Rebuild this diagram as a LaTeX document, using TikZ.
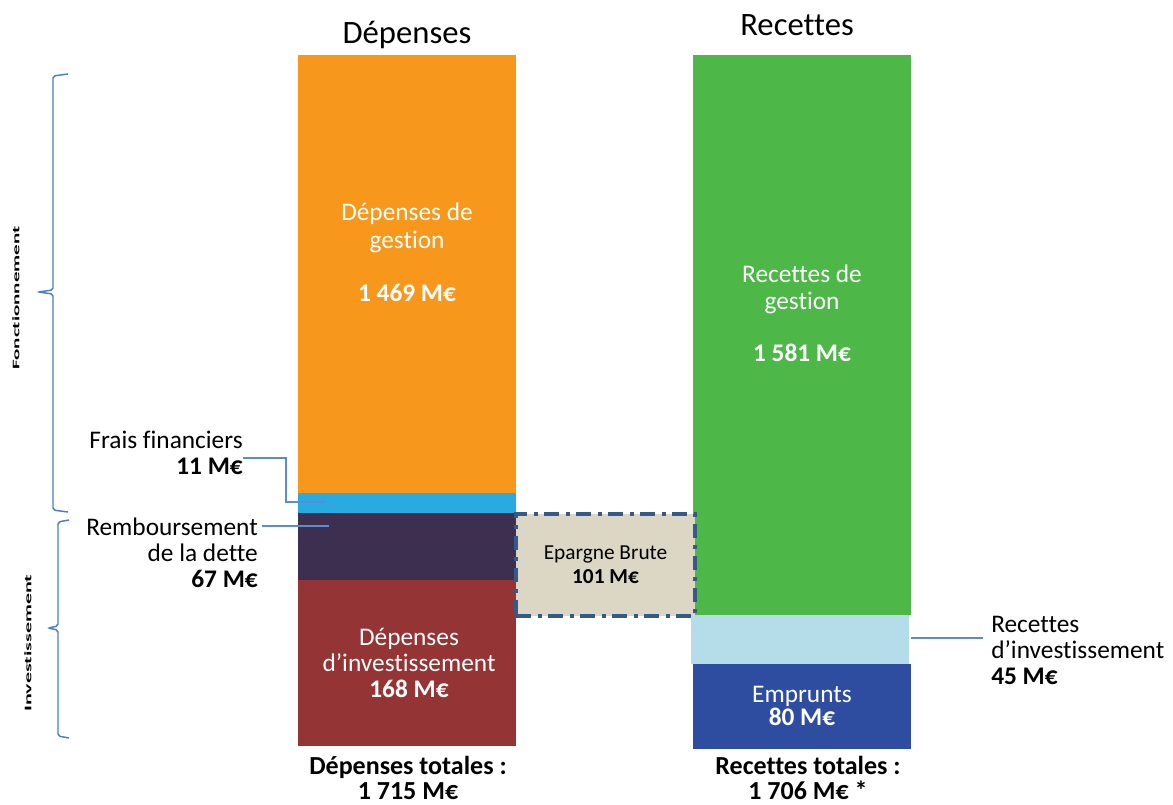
\documentclass[tikz,border=0pt]{standalone}
\usepackage{fontspec}
\setmainfont{Carlito}[Ligatures=NoCommon]
\usetikzlibrary{positioning, calc}
\definecolor{gestionorange}{HTML}{F7981D}
\definecolor{fraisblue}{HTML}{29ABE2}
\definecolor{dettepurple}{HTML}{3D2F4F}
\definecolor{investred}{HTML}{953434}
\definecolor{gestiongreen}{HTML}{4DB848}
\definecolor{investcyan}{HTML}{B4DCE9}
\definecolor{empruntblue}{HTML}{2E4DA0}
\definecolor{epargnefill}{HTML}{DBD7C4}
\definecolor{epargneline}{HTML}{345A8A}
\definecolor{leaderblue}{HTML}{5B8BD0}
\definecolor{braceblue}{HTML}{4A7EC7}

\begin{document}
\begin{tikzpicture}[x=0.75pt, y=-0.75pt,
    txt/.style={font=\fontsize{19}{19.5}\selectfont, inner sep=0pt, align=center},
    intxt/.style={txt, text=white},
    title/.style={font=\fontsize{24.5}{26}\selectfont, inner sep=0pt, anchor=base},
    total/.style={txt, font=\fontsize{19.5}{19}\selectfont\bfseries},
    leader/.style={draw=leaderblue, line width=1.1pt},
    bracket/.style={draw=braceblue, line width=1.1pt, rounded corners=1.5pt},
    sidetxt/.style={font=\fontsize{7.5}{8}\selectfont\bfseries, inner sep=0pt, rotate=90}]
  \useasboundingbox (0,0) rectangle (1173,804);

  % titres
  \node[title] (depTitle) at (407,43) {Dépenses};
  \node[title] (recTitle) at (797,35) {Recettes};

  % barre des dépenses
  \fill[gestionorange] (298,55) rectangle (516,493);
  \fill[fraisblue] (298,493) rectangle (516,513);
  \fill[dettepurple] (298,513) rectangle (516,580);
  \fill[investred] (298,580) rectangle (516,746);

  % barre des recettes
  \fill[gestiongreen] (693,55) rectangle (911,615);
  \fill[investcyan] (691,615) rectangle (909,664);
  \fill[empruntblue] (693,664) rectangle (911,749);

  % textes dans les barres
  \node[intxt] (gestD) at (407,252) {Dépenses de\\[1.5pt]gestion\\[20pt]\textbf{1 469 M€}};
  \node[intxt] (gestR) at (802,313) {Recettes de\\[1pt]gestion\\[19pt]\textbf{1 581 M€}};
  \node[intxt] (investD) at (409,663) {Dépenses\\d’investissement\\\textbf{168 M€}};
  \node[intxt] (emprunts) at (802,706) {Emprunts\\[-2pt]\textbf{80 M€}};

  % épargne brute
  \node[txt, font=\fontsize{16}{18}\selectfont, fill=epargnefill, draw=epargneline,
    line width=3pt, dash pattern=on 11pt off 5pt on 3pt off 5pt,
    minimum width=134pt, minimum height=76pt] (epargne) at (605.5,565)
    {Epargne Brute\\\textbf{101 M€}};

  % étiquettes et traits de rappel
  \node[txt, align=right, anchor=east] (fraisLab) at (243,453) {Frais financiers\\\textbf{11 M€}};
  \node[txt, align=right, anchor=east] (detteLab) at (258,553) {Remboursement\\de la dette\\\textbf{67 M€}};
  \node[txt, align=left, anchor=west] (recInvLab) at (991,650) {Recettes\\d’investissement\\\textbf{45 M€}};
  \coordinate (fraisEnd) at (326,502);
  \coordinate (detteEnd) at (329,526);
  \coordinate (recInvEnd) at (911,638);
  \draw[leader] ($(fraisLab.east)+(0,5)$) -| (286,502) -- (fraisEnd);
  \draw[leader] ($(detteLab.east)+(4,-27)$) -- (detteEnd);
  \draw[leader] (recInvEnd) -- ($(recInvLab.west)+(-8,-12)$);

  % totaux
  \node[total] (totDep) at (408,778) {Dépenses totales :\\1 715 M€};
  \node[total] (totRec) at (808,778) {Recettes totales :\\1 706 M€ *};

  % accolades
  \draw[bracket] (68,74) -- (53,76) -- (53,290) -- (38,292) -- (53,294) -- (53,510) -- (68,512);
  \draw[bracket] (69,520) -- (58,522) -- (58,626) -- (48,628) -- (58,630) -- (58,736) -- (69,738);
  \node[sidetxt] (fonctLab) at (16,298) {\scalebox{2.1}[1]{Fonctionnement}};
  \node[sidetxt] (investLab) at (28,643) {\scalebox{2.2}[1]{Investissement}};
\end{tikzpicture}
\end{document}
